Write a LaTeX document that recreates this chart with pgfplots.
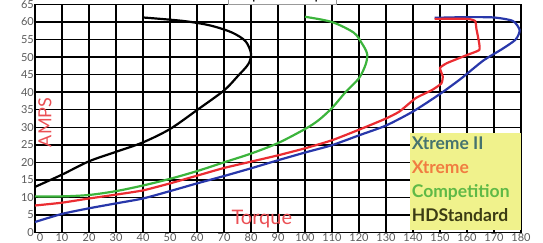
\documentclass[border=0pt]{standalone}
\usepackage{fontspec}
\setmainfont{Lato}
\usepackage{pgfplots}
\pgfplotsset{compat=1.18}
\definecolor{cblue}{RGB}{40,55,170}
\definecolor{cred}{RGB}{235,45,50}
\definecolor{cgreen}{RGB}{60,180,60}
\definecolor{legyellow}{RGB}{240,242,140}
\definecolor{lgXII}{RGB}{70,115,110}
\definecolor{lgX}{RGB}{240,125,65}
\definecolor{lgC}{RGB}{95,185,70}
\definecolor{lgHD}{RGB}{60,60,20}
\definecolor{lblred}{RGB}{235,80,85}
\begin{document}
\begin{tikzpicture}
\begin{axis}[
  scale only axis, width=486pt, height=228pt,
  xmin=0, xmax=180, ymin=0, ymax=65,
  xtick={0,10,...,180}, ytick={0,5,...,65},
  xticklabels={{\hspace{10pt}0},10,20,30,40,50,60,70,80,90,100,110,120,130,140,150,160,170,180},
  grid=major, major grid style={black, line width=1.4pt},
  axis line style={black, line width=1.4pt},
  major tick length=0pt,
  /pgf/number format/assume math mode=true,
  ticklabel style={font=\fontsize{11}{11}\selectfont, text=black!65},
  xticklabel style={inner sep=0.5pt},
  yticklabel style={inner sep=1pt},
]
\addplot[cblue, line width=2.2pt, smooth, tension=0.4] coordinates {
(0,3) (10,5.3) (20,6.9) (30,8.3) (40,9.7) (50,11.8) (60,14) (70,16.1) (80,18.3) (90,20.6) (100,22.8) (110,24.9) (120,27.7) (130,30.5) (140,34.5) (150,39.5) (158,44) (166,49) (173,52.3) (178,55) (179.5,57.7) (177,60.3) (170,61.3) (160,61.4) (148,61.2)};
\addplot[cred, line width=2.2pt, smooth, tension=0.3] coordinates {
(0,7.7) (10,8.5) (20,9.7) (30,10.8) (40,12) (50,14) (60,16.2) (70,18.4) (80,20.2) (90,22) (100,24) (110,26.3) (120,29.3) (130,32.5) (135,34.5) (141,38.3) (147,40.6) (150.5,42.5) (151,44.5) (150,46.9) (152.6,48.3) (160,50.6) (164.5,52) (164.5,54) (163.5,58) (163,60.3) (160,60.9) (148,60.9)};
\addplot[cgreen, line width=2.2pt, smooth, tension=0.5] coordinates {
(0,10.3) (10,10.3) (20,10.7) (30,11.8) (40,13.4) (50,15.3) (60,17.5) (70,20) (80,22.5) (90,25.5) (100,29.5) (105,32) (110,35.5) (115,40) (120,44) (122.5,48) (123,51) (121,54) (118,57) (110,60) (100,61.5)};
\addplot[black, line width=2.2pt, smooth, tension=0.5] coordinates {
(0,13) (10,16.5) (20,20.3) (30,23) (40,25.7) (50,29.5) (60,34.9) (70,40.5) (75,44.5) (79,48) (80,51) (78,54.5) (73,57) (65,59) (55,60.3) (40,61.3)};
\fill[legyellow] (axis cs:138.9,0.7) rectangle (axis cs:180,28.4);
\node[anchor=west, text=lgXII, font=\fontsize{17.5}{17.5}\selectfont\bfseries, inner sep=0pt] at (axis cs:139.5,25.5) {Xtreme II};
\node[anchor=west, text=lgX, font=\fontsize{17.5}{17.5}\selectfont\bfseries, inner sep=0pt] at (axis cs:139.5,18.7) {Xtreme};
\node[anchor=west, text=lgC, font=\fontsize{17.5}{17.5}\selectfont\bfseries, inner sep=0pt] at (axis cs:139.5,11.5) {Competition};
\node[anchor=west, text=lgHD, font=\fontsize{17.5}{17.5}\selectfont\bfseries, inner sep=0pt] at (axis cs:139.5,5.0) {HDStandard};
\node[rotate=90, text=lblred, font=\fontsize{18}{18}\selectfont] at (axis cs:3.7,31.4) {AMPS};
\node[text=lblred, font=\fontsize{20}{20}\selectfont] at (axis cs:84,3.85) {Torque};
\end{axis}
\node[anchor=south, fill=white, draw=black!40, font=\fontsize{15}{15}\selectfont, inner sep=2pt] at (247pt,228pt) {Amps vs Torque};
\pgfresetboundingbox
\useasboundingbox (-35pt,-9.5pt) rectangle (508pt,232.5pt);
\end{tikzpicture}
\end{document}
